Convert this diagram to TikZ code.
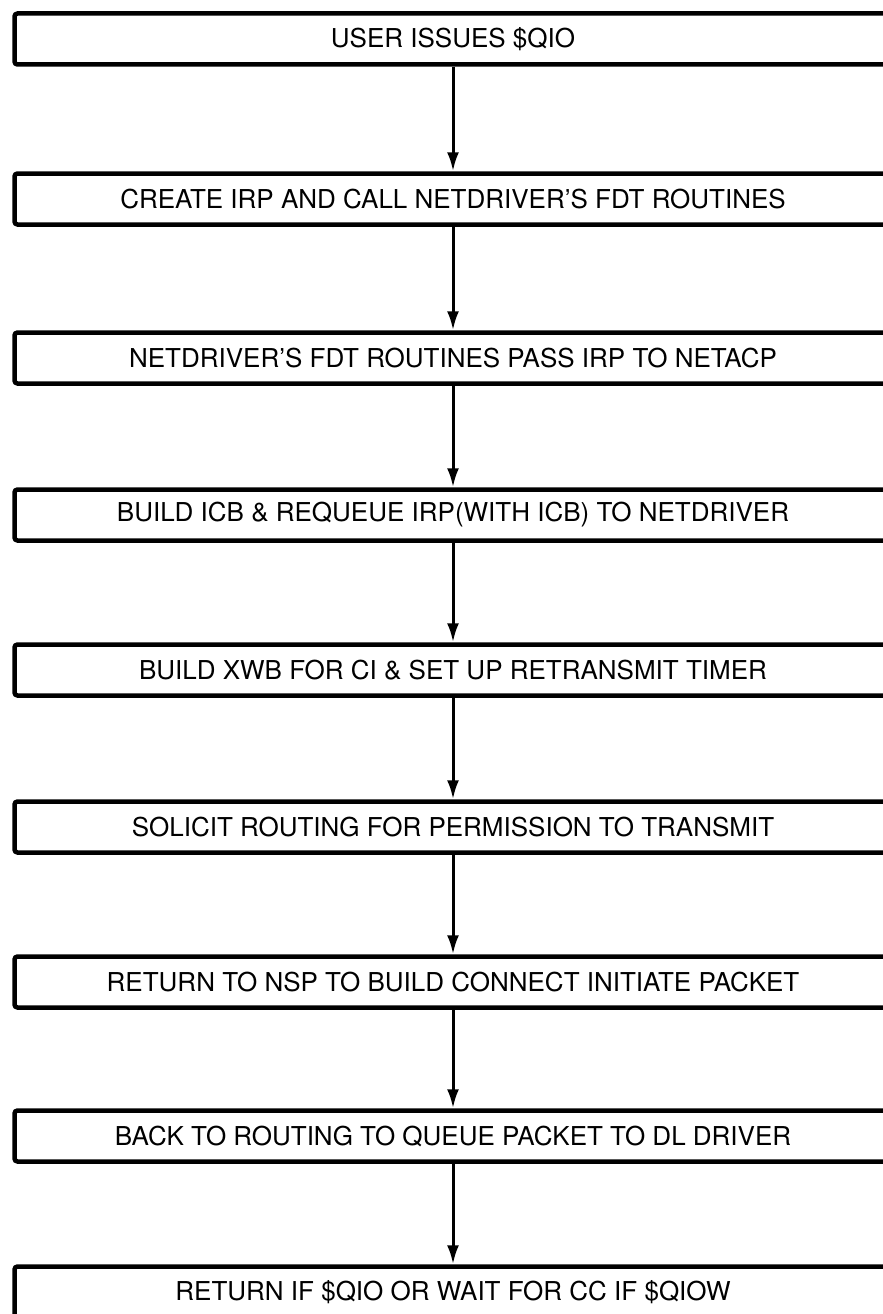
\documentclass[tikz,border=0pt]{standalone}
\usepackage{fontspec}
\setmainfont{TeX Gyre Heros}
\usepackage{tikz}
\usetikzlibrary{arrows.meta}

\begin{document}
\begin{tikzpicture}[x=1pt, y=1pt,
  stepbox/.style={rectangle, draw, line width=4.5pt, rounded corners=3pt,
                  minimum width=877pt, minimum height=51pt, align=center,
                  font=\fontsize{26}{30}\selectfont},
  arrow/.style={-{Latex[length=19pt,width=12pt]}, line width=3pt}
]
\useasboundingbox (0,0) rectangle (883,-1314);
\clip (0,0) rectangle (883,-1314);

%% Steps
\node[stepbox] at (453,  -39) (issue)   {USER ISSUES \$QIO};
\node[stepbox] at (453, -199) (irp)     {CREATE IRP AND CALL NETDRIVER'S FDT ROUTINES};
\node[stepbox] at (453, -358) (pass)    {NETDRIVER'S FDT ROUTINES PASS IRP TO NETACP};
\node[stepbox] at (453, -515) (icb)     {BUILD ICB \& REQUEUE IRP(WITH ICB) TO NETDRIVER};
\node[stepbox] at (453, -670) (xwb)     {BUILD XWB FOR CI \& SET UP RETRANSMIT TIMER};
\node[stepbox] at (453, -827) (solicit) {SOLICIT ROUTING FOR PERMISSION TO TRANSMIT};
\node[stepbox] at (453, -982) (nsp)     {RETURN TO NSP TO BUILD CONNECT INITIATE PACKET};
\node[stepbox] at (453,-1136) (queue)   {BACK TO ROUTING TO QUEUE PACKET TO DL DRIVER};
\node[stepbox] at (453,-1292) (wait)    {RETURN IF \$QIO OR WAIT FOR CC IF \$QIOW};

%% Arrows
\draw[arrow] (issue)   -- (irp);
\draw[arrow] (irp)     -- (pass);
\draw[arrow] (pass)    -- (icb);
\draw[arrow] (icb)     -- (xwb);
\draw[arrow] (xwb)     -- (solicit);
\draw[arrow] (solicit) -- (nsp);
\draw[arrow] (nsp)     -- (queue);
\draw[arrow] (queue)   -- (wait);
\end{tikzpicture}
\end{document}
